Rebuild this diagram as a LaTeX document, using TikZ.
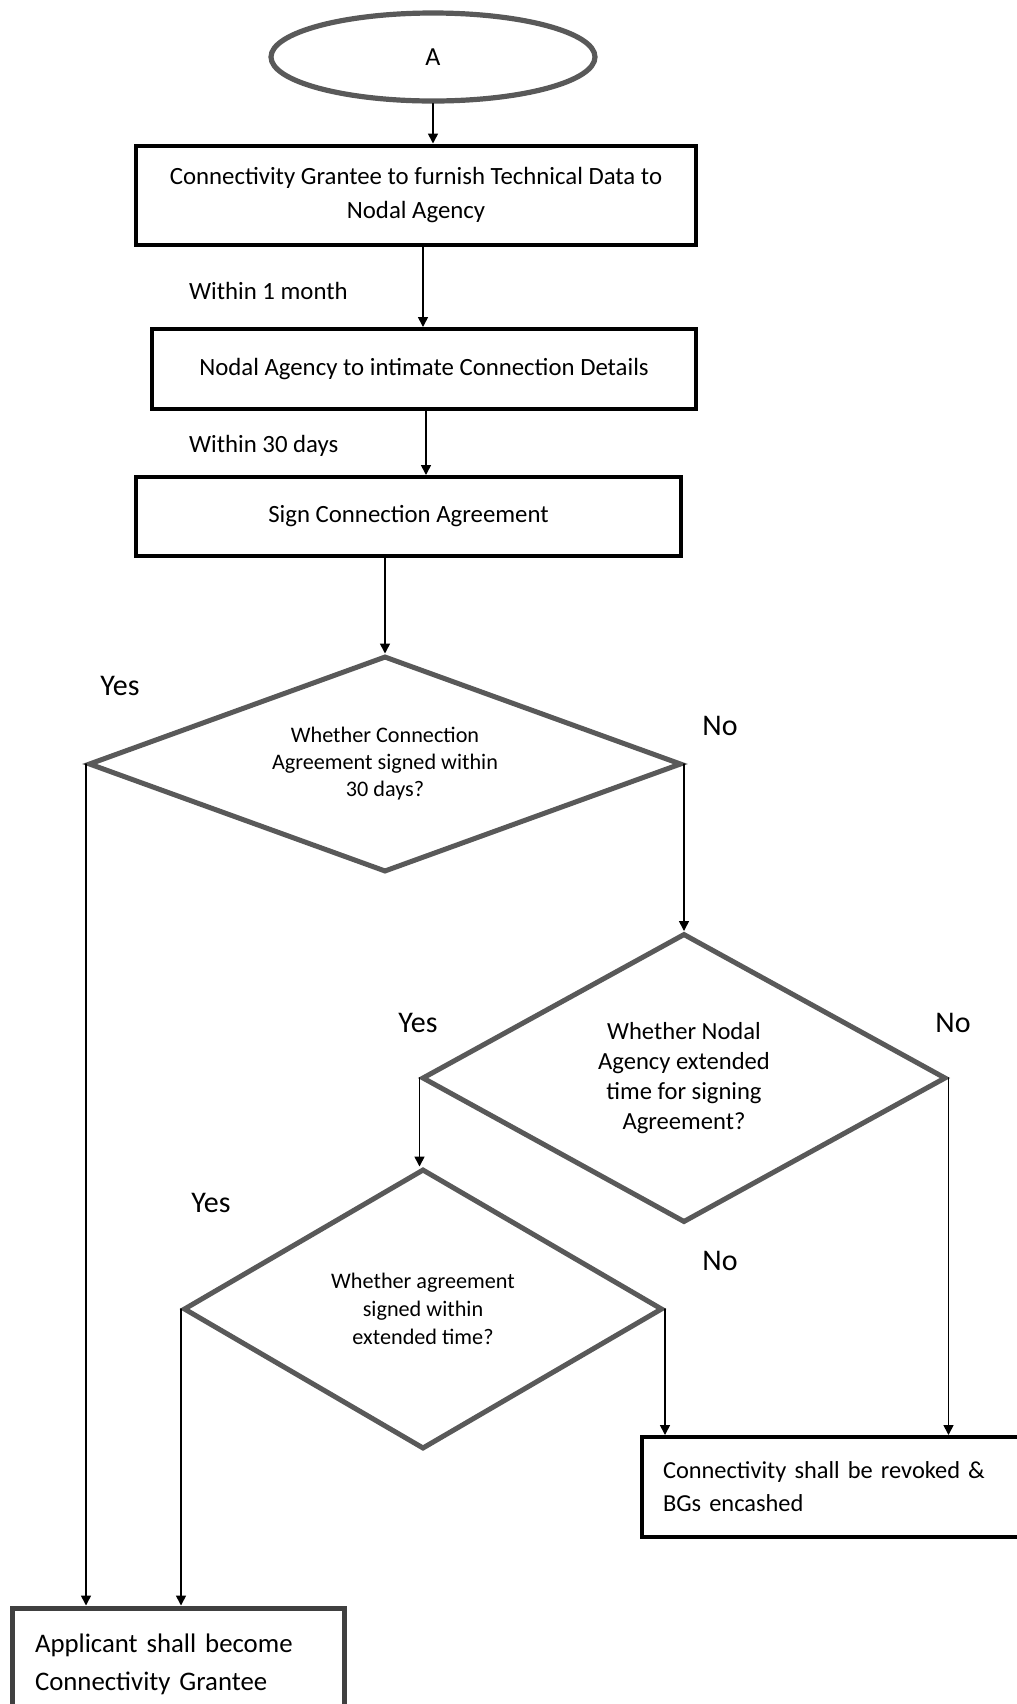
\documentclass[tikz,border=0pt]{standalone}
\usepackage{fontspec}
\setmainfont{Carlito}
\usetikzlibrary{shapes.geometric,arrows.meta}

\begin{document}
\begin{tikzpicture}
		[x=0.5pt,y=-0.5pt,line cap=round,
		%Styles
		process/.style={draw=black,line width=2pt,inner sep=0pt,align=center,font=\fontsize{12.4}{17}\selectfont},
		decision/.style={diamond,draw=shapegray,line width=2.5pt,inner sep=0pt,align=center},
		answer/.style={font=\fontsize{15}{18}\selectfont},
		timing/.style={anchor=west,font=\fontsize{12.4}{15}\selectfont},
		flow/.style={line width=0.8pt},
		->,>={Triangle[length=5pt,width=5pt]}
		]
		
		%Colors
		\colorlet{shapegray}{black!65}	%ellipse and diamonds
		
		\useasboundingbox (0,0) rectangle (1017,1704);
		
		%The graphic
		\node[ellipse,draw=shapegray,line width=2.6pt,minimum width=162pt,minimum height=44pt,font=\fontsize{13}{15}\selectfont] (start) at (433,57) {A};
		
		\node[process,minimum width=280pt,minimum height=49.5pt] (furnish) at (416,195) {Connectivity Grantee to furnish Technical Data to\\Nodal Agency};
		\node[process,minimum width=272pt,minimum height=40pt] (intimate) at (424,369) {Nodal Agency to intimate Connection Details};
		\node[process,minimum width=272.5pt,minimum height=39.5pt] (sign) at (408.5,516.5) {Sign Connection Agreement};
		
		\node[timing] (month) at (182,291) {Within 1 month};
		\node[timing] (days) at (182,446) {Within 30 days};
		
		\node[decision,aspect=2.75,minimum width=296.5pt,minimum height=108pt,font=\fontsize{11.1}{13.5}\selectfont] (within30) at (385,764) {Whether Connection\\Agreement signed within\\30 days?};
		\node[decision,aspect=1.81,minimum width=262pt,minimum height=144.5pt,font=\fontsize{12.3}{15}\selectfont] (extended) at (684,1078) {Whether Nodal\\Agency extended\\time for signing\\Agreement?};
		\node[decision,aspect=1.71,minimum width=239.5pt,minimum height=140pt,font=\fontsize{11.1}{14}\selectfont] (signedext) at (423,1309) {Whether agreement\\signed within\\extended time?};
		
		\node[process,minimum width=229pt,minimum height=50pt,inner xsep=10.5pt,text width=208pt,align=left,font=\fontsize{12.2}{16.5}\selectfont] (revoke) at (871,1487) {\makebox[171pt][s]{Connectivity shall be revoked \&}\\BGs encashed};
		\node[process,draw=black!75,line width=2.5pt,minimum width=166pt,minimum height=56pt,inner xsep=11.5pt,text width=143pt,align=left,font=\fontsize{13.4}{19}\selectfont] (grantee) at (178,1664) {Applicant shall become\\Connectivity Grantee};
		
		\node[answer] (yes1) at (120,686) {Yes};
		\node[answer] (no1) at (720,726) {No};
		\node[answer] (yes2) at (418,1023) {Yes};
		\node[answer] (no2) at (953,1023) {No};
		\node[answer] (yes3) at (211,1203) {Yes};
		\node[answer] (no3) at (720,1261) {No};
		
		\draw[flow] (start.south) -- (start.south |- furnish.north);
		\draw[flow] ([xshift=3.5pt]furnish.south) -- ([xshift=3.5pt]furnish.south |- intimate.north);
		\draw[flow] ([xshift=1pt]intimate.south) -- ([xshift=1pt]intimate.south |- sign.north);
		\draw[flow] (sign.south -| within30.north) -- (within30.north);
		\draw[flow] (within30.west) -- (within30.west |- grantee.north);
		\draw[flow] (within30.east) -- (within30.east |- extended.north);
		\draw[flow] (extended.west) -- (extended.west |- signedext.north);
		\draw[flow] (extended.east) -- (extended.east |- revoke.north);
		\draw[flow] (signedext.west) -- (signedext.west |- grantee.north);
		\draw[flow] (signedext.east) -- (signedext.east |- revoke.north);
	\end{tikzpicture}
\end{document}
